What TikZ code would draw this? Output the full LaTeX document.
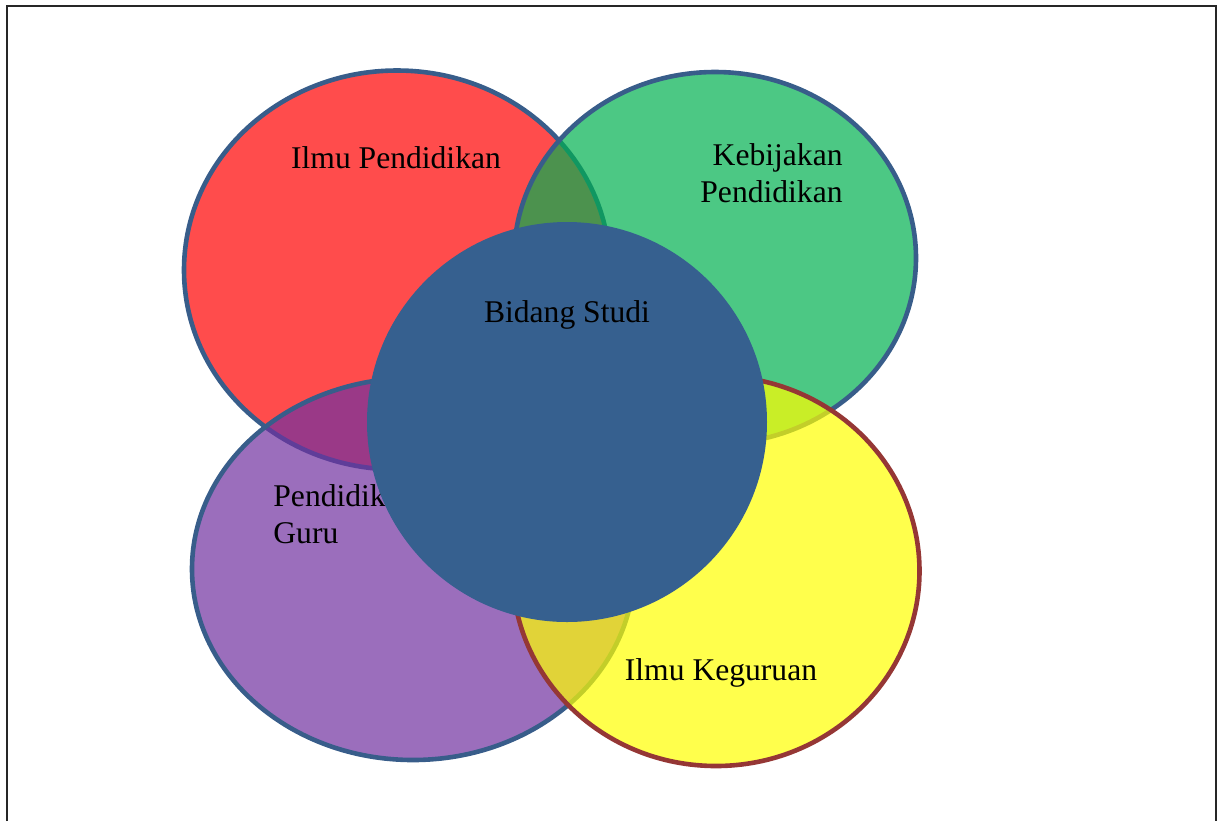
\documentclass[tikz,border=0pt]{standalone}
\usepackage{fontspec}
\setmainfont{Liberation Serif}
\usetikzlibrary{shapes.geometric}
\definecolor{vred}{HTML}{FF0000}
\definecolor{vgreen}{HTML}{00B050}
\definecolor{vpurple}{HTML}{7030A0}
\definecolor{vyellow}{HTML}{FFFF00}
\definecolor{vstroke}{HTML}{385D8A}
\definecolor{vystroke}{HTML}{953735}
\definecolor{vblue}{HTML}{36608F}
\begin{document}
\begin{tikzpicture}[x=0.5pt,y=-0.5pt,
  venn/.style={ellipse, inner sep=0pt, outer sep=0pt, line width=2.3pt, fill opacity=0.7, draw opacity=1},
  lbl/.style={font=\fontsize{15.8}{18.2}\selectfont, inner sep=0pt, text=black}]
\useasboundingbox (0,0) rectangle (1217,821);
\draw[line width=1pt, black!85] (7,821) -- (7,6) -- (1216,6) -- (1216,821);
% ellipses
\node[venn, draw=vstroke, fill=vred, minimum width=213pt, minimum height=199.5pt] (red) at (397,270) {};
\node[venn, draw=vstroke, fill=vgreen, minimum width=201pt, minimum height=186pt] (green) at (715,258) {};
\node[venn, draw=vstroke, fill=vpurple, minimum width=221pt, minimum height=191pt] (purple) at (413,569) {};
\node[venn, draw=vystroke, fill=vyellow, minimum width=203.5pt, minimum height=195pt] (yellow) at (716,571) {};
% labels
\node[lbl, anchor=base] (lred) at (396,168) {Ilmu Pendidikan};
\node[lbl, anchor=base east, align=right] (lgreen) at (843,202) {Kebijakan\\Pendidikan};
\node[lbl, anchor=base west, align=left] (lpurple) at (273,543) {Pendidikan\\Guru};
\node[lbl, anchor=base] (lyellow) at (721,680) {Ilmu Keguruan};
% central circle
\node[circle, inner sep=0pt, fill=vblue, minimum size=200pt] (blue) at (567,422) {};
\node[lbl, anchor=base] (lblue) at (567,322) {Bidang Studi};
\end{tikzpicture}
\end{document}
